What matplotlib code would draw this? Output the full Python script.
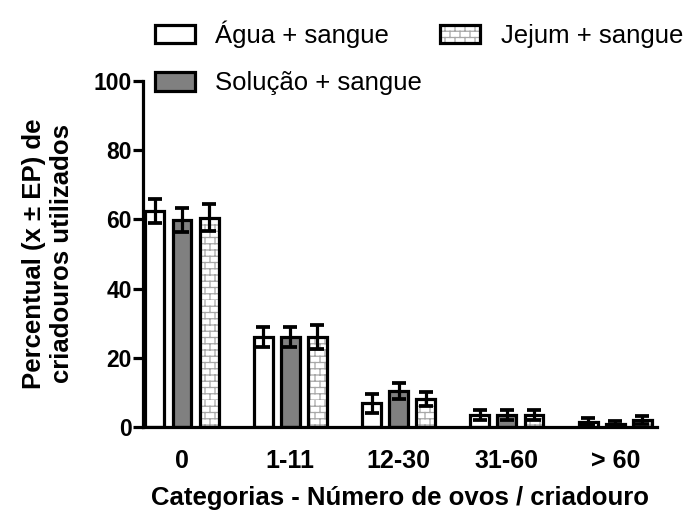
import warnings
import numpy as np
import matplotlib
matplotlib.use("Agg")
import matplotlib.pyplot as plt
import matplotlib.hatch as mhatch
from matplotlib.path import Path
from matplotlib.patches import Patch
from matplotlib.legend_handler import HandlerTuple

categorias = ["0", "1-11", "12-30", "31-60", "> 60"]
grupos = ["Água + sangue", "Solução + sangue", "Jejum + sangue"]

agua_media = [62.5, 26.0, 6.8, 3.5, 1.5]
agua_ep = [3.5, 3.0, 2.8, 1.5, 1.0]
solucao_media = [59.8, 26.0, 10.5, 3.5, 0.8]
solucao_ep = [3.6, 2.8, 2.3, 1.5, 0.8]
jejum_media = [60.5, 26.0, 8.2, 3.5, 2.0]
jejum_ep = [4.0, 3.5, 2.0, 1.5, 1.2]


class BrickHatch(mhatch.HatchPatternBase):
    """Brick wall texture, selected with the 'b' hatch character."""
    rows = 16
    cols = 10

    def __init__(self, hatch, density):
        self.on = "b" in hatch
        self.num_vertices = (2 * self.rows + 2 * self.rows * self.cols) if self.on else 0

    def set_vertices_and_codes(self, vertices, codes):
        i = 0
        for r in range(self.rows):
            y0 = r / self.rows
            y1 = (r + 1) / self.rows
            vertices[i] = (0, y0)
            vertices[i + 1] = (1, y0)
            codes[i] = Path.MOVETO
            codes[i + 1] = Path.LINETO
            i += 2
            shift = 0.5 * (r % 2)
            for c in range(self.cols):
                x = (c + shift) / self.cols
                vertices[i] = (x, y0)
                vertices[i + 1] = (x, y1)
                codes[i] = Path.MOVETO
                codes[i + 1] = Path.LINETO
                i += 2


mhatch._hatch_types.append(BrickHatch)
warnings.filterwarnings("ignore", message=".*hatch.*")

plt.rcParams["font.family"] = ["Liberation Sans", "DejaVu Sans"]
plt.rcParams["hatch.linewidth"] = 0.9

lw = 2.3
cinza = "#808080"
tijolo = "#a8a8a8"

fig = plt.figure(figsize=(6.99, 5.12), dpi=100)
ax = fig.add_axes([0.2046, 0.166, 0.7354, 0.676])

x = np.arange(len(categorias))
larg = 0.175
desl = 0.25
err_kw = dict(ecolor="black", elinewidth=lw, capsize=5, capthick=lw + 0.4, zorder=4)

ax.bar(x - desl, agua_media, larg, color="white", edgecolor="black",
       linewidth=lw, zorder=3)
ax.errorbar(x - desl, agua_media, yerr=agua_ep, fmt="none", **err_kw)

ax.bar(x, solucao_media, larg, color=cinza, edgecolor="black",
       linewidth=lw, zorder=3)
ax.errorbar(x, solucao_media, yerr=solucao_ep, fmt="none", **err_kw)

# brick texture first (hatch takes the edge colour), then the black outline
ax.bar(x + desl, jejum_media, larg, color="white", edgecolor=tijolo,
       hatch="b", linewidth=0, zorder=2.9)
ax.bar(x + desl, jejum_media, larg, color="none", edgecolor="black",
       linewidth=lw, zorder=3)
ax.errorbar(x + desl, jejum_media, yerr=jejum_ep, fmt="none", **err_kw)

ax.set_xlim(-0.36, 4.386)
ax.set_ylim(0, 100)
ax.set_yticks([0, 20, 40, 60, 80, 100])
ax.set_xticks(x)
ax.set_xticklabels(categorias)

for s in ["top", "right"]:
    ax.spines[s].set_visible(False)
for s in ["left", "bottom"]:
    ax.spines[s].set_linewidth(lw)
ax.spines["bottom"].set_zorder(5)

ax.tick_params(axis="y", length=7, width=lw, pad=1, labelsize=16.5)
ax.tick_params(axis="x", length=0, pad=16, labelsize=18)
for t in ax.get_xticklabels() + ax.get_yticklabels():
    t.set_fontweight("bold")

ax.set_xlabel("Categorias - Número de ovos / criadouro", fontsize=18.5,
              fontweight="bold", labelpad=9)
ax.set_ylabel("Percentual (x ± EP) de\ncriadouros utilizados", fontsize=18.5,
              fontweight="bold", linespacing=1.2)
ax.yaxis.set_label_coords(-0.135, 0.5)

h_agua = Patch(facecolor="white", edgecolor="black", linewidth=lw)
h_sol = Patch(facecolor=cinza, edgecolor="black", linewidth=lw)
h_jej = (Patch(facecolor="white", edgecolor=tijolo, hatch="b", linewidth=0),
         Patch(facecolor="none", edgecolor="black", linewidth=lw))

fig.legend([h_agua, h_sol, h_jej], [grupos[0], grupos[1], grupos[2]],
           handler_map={tuple: HandlerTuple(ndivide=1, pad=0)},
           ncol=2, loc="upper left", bbox_to_anchor=(0.196, 0.995),
           frameon=False, prop={"size": 18.5}, handlelength=1.55,
           handleheight=0.75, handletextpad=0.8, columnspacing=0.7,
           labelspacing=0.9, borderpad=0.2)

fig.savefig("out.png", dpi=100)
